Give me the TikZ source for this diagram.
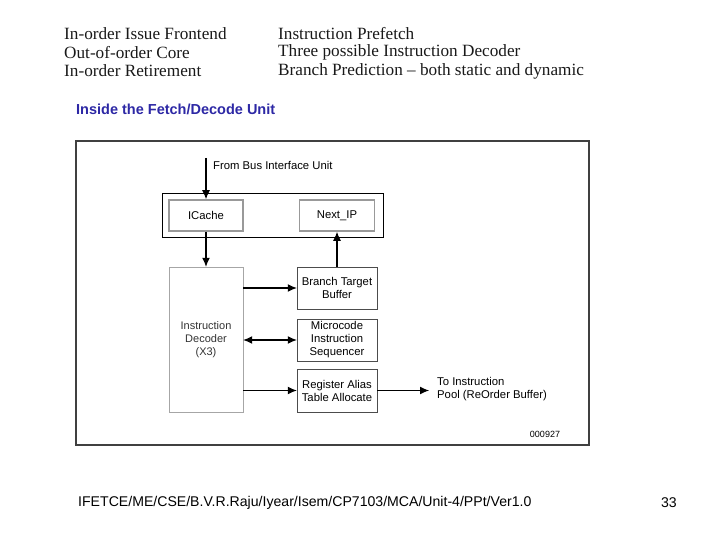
\documentclass[tikz,border=0pt]{standalone}
\usepackage{fontspec}
\setmainfont{Liberation Serif}
\setsansfont{Liberation Sans}
\usetikzlibrary{arrows.meta}
\definecolor{titleblue}{RGB}{45,40,165}
\begin{document}
\begin{tikzpicture}[x=1pt,y=-1pt,
        unit/.style={draw=black!70, thin, fill=white, font=\sffamily\fontsize{11.3}{13}\selectfont, align=center, inner sep=1pt},
        cachebox/.style={draw=black!40, line width=1.6pt, fill=white, font=\sffamily\fontsize{11.3}{13}\selectfont},
        flow/.style={-{Latex[length=9pt,width=8pt]}, line width=1.1pt},
        lbl/.style={font=\sffamily\fontsize{11.3}{13}\selectfont, align=left, inner sep=0pt, anchor=west}]
        \useasboundingbox (0,0) rectangle (720,540);
        % Kopfzeilen
        \begin{scope}[every node/.style={font=\fontsize{17.2}{18}\selectfont, anchor=west, inner sep=0pt, text=black!90}]
            \node (fe) at (64,34) {In-order Issue Frontend};
            \node (ooo) at (64,52.5) {Out-of-order Core};
            \node (ret) at (64,71) {In-order Retirement};
            \node (pre) at (278,34) {Instruction Prefetch};
            \node (dcd) at (278,52.5) {Three possible Instruction Decoder};
            \node (bp) at (278,71) {Branch Prediction -- both static and dynamic};
        \end{scope}
        \node[anchor=west, inner sep=0pt, text=titleblue, font=\sffamily\bfseries\fontsize{14.5}{16}\selectfont] (title) at (76,109) {Inside the Fetch/Decode Unit};
        % Rahmen
        \draw[black!75, line width=1.2pt] (76,141) rectangle (589,445);
        % Fetch-Gruppe
        \node[draw, thin, minimum width=221, minimum height=44, inner sep=0pt] (fetch) at (272.5,215) {};
        \node[cachebox, minimum width=74, minimum height=31] (icache) at (206,215.5) {ICache};
        \node[cachebox, minimum width=75, minimum height=31] (nextip) at (337,215.5) {Next\_IP};
        % Decoder und Einheiten
        \node[draw=black!35, thin, minimum width=74, minimum height=145, font=\sffamily\fontsize{11}{13}\selectfont, align=center, text=black!80] (dec) at (206,339.5) {Instruction\\Decoder\\(X3)};
        \node[unit, minimum width=80, minimum height=42] (btb) at (337,288) {Branch Target\\Buffer};
        \node[unit, minimum width=80, minimum height=42] (micro) at (337,340) {Microcode\\Instruction\\Sequencer};
        \node[unit, minimum width=80, minimum height=43] (rat) at (337,390.5) {Register Alias\\Table Allocate};
        % Verbindungen
        \coordinate (bus) at (206,158);
        \coordinate (pool) at (429,390.5);
        \node[lbl] (buslbl) at (213,165) {From Bus Interface Unit};
        \node[lbl] (poollbl) at (437,389) {To Instruction\\Pool (ReOrder Buffer)};
        \node[font=\sffamily\fontsize{9}{10}\selectfont, inner sep=0pt] (fig) at (545,434) {000927};
        \draw[flow] (bus) -- (icache.north);
        \draw[flow] (icache.south) -- (dec.north);
        \draw[flow] (btb.north) -- (nextip.south);
        \draw[flow] (dec.east |- btb.west) -- (btb.west);
        \draw[flow, {Latex[length=9pt,width=8pt]}-{Latex[length=9pt,width=8pt]}] (dec.east |- micro.west) -- (micro.west);
        \draw[flow] (dec.east |- rat.west) -- (rat.west);
        \draw[flow] (rat.east) -- (pool);
        % Fusszeile
        \node[anchor=west, inner sep=0pt, font=\sffamily\fontsize{14.1}{15}\selectfont] (foot) at (78,503) {IFETCE/ME/CSE/B.V.R.Raju/Iyear/Isem/CP7103/MCA/Unit-4/PPt/Ver1.0};
        \node[anchor=east, inner sep=0pt, font=\sffamily\fontsize{14.1}{15}\selectfont] (page) at (677,503) {33};
\end{tikzpicture}
\end{document}
